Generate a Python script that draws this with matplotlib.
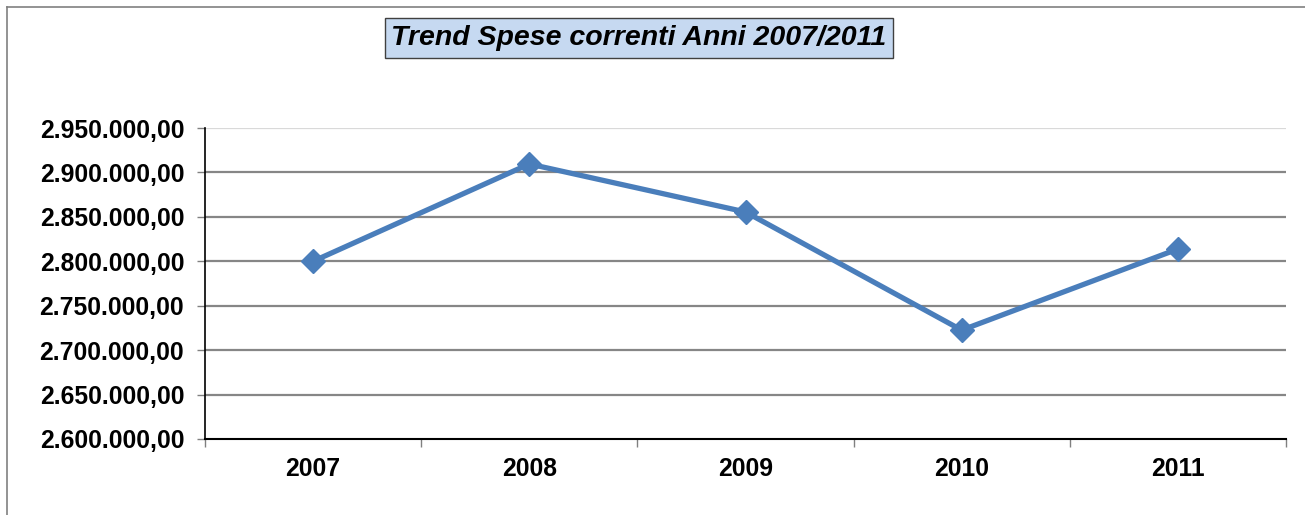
import numpy as np
import matplotlib.pyplot as plt
from matplotlib.ticker import FuncFormatter, FixedLocator
from matplotlib.lines import Line2D

# Data
anni = ['2007', '2008', '2009', '2010', '2011']
spese = [2800000, 2909500, 2855500, 2722500, 2813800]
y_ticks = [2600000, 2650000, 2700000, 2750000, 2800000, 2850000, 2900000, 2950000]

plt.rcParams['font.family'] = ['Liberation Sans', 'DejaVu Sans']

W, H = 1305, 515
fig = plt.figure(figsize=(W / 100, H / 100), dpi=100)

# axes placement in pixels
left, right, top, bottom = 205, 1286, 128, 439
ax = fig.add_axes([left / W, 1 - bottom / H, (right - left) / W, (bottom - top) / H])

x = np.arange(len(anni))
ax.plot(x, spese, color='#4A7EBB', linewidth=3.8, marker='D', markersize=12,
        zorder=5, solid_joinstyle='miter')

ax.set_xlim(-0.5, len(anni) - 0.5)
ax.set_ylim(y_ticks[0], y_ticks[-1])

def it_fmt(v, pos):
    s = f"{v:,.2f}"
    return s.replace(',', 'X').replace('.', ',').replace('X', '.')

ax.yaxis.set_major_locator(FixedLocator(y_ticks))
ax.yaxis.set_major_formatter(FuncFormatter(it_fmt))
ax.set_xticks(x)
ax.set_xticklabels(anni)
ax.xaxis.set_minor_locator(FixedLocator(np.arange(-0.5, len(anni), 1.0)))

ax.tick_params(axis='x', which='major', length=0, pad=13)
ax.tick_params(axis='x', which='minor', length=6, width=1, color='#808080')
ax.tick_params(axis='y', length=6, width=1, color='#808080', pad=9)
for lab in ax.get_xticklabels() + ax.get_yticklabels():
    lab.set_fontsize(17.8)
    lab.set_fontweight('bold')

# horizontal gridlines
for yv in y_ticks[1:]:
    c = '#D9D9D9' if yv == y_ticks[-1] else '#868686'
    ax.axhline(yv, color=c, linewidth=1.6, zorder=1)

for s in ['top', 'right']:
    ax.spines[s].set_visible(False)
ax.spines['left'].set_linewidth(1.2)
ax.spines['bottom'].set_linewidth(1.5)

# outer chart border (top and left visible)
fig.add_artist(Line2D([7 / W, 1], [1 - 7 / H, 1 - 7 / H], color='#808080', linewidth=1.2))
fig.add_artist(Line2D([7 / W, 7 / W], [0, 1 - 7 / H], color='#808080', linewidth=1.2))

# title in a box
fig.text(639 / W, 1 - 38 / H, 'Trend Spese correnti Anni 2007/2011', ha='center', va='center',
         fontsize=20.5, fontweight='bold', fontstyle='italic',
         bbox=dict(boxstyle='square,pad=0.24', facecolor='#C6D9F1', edgecolor='#404040', linewidth=1))

fig.savefig('out.png', dpi=100)
